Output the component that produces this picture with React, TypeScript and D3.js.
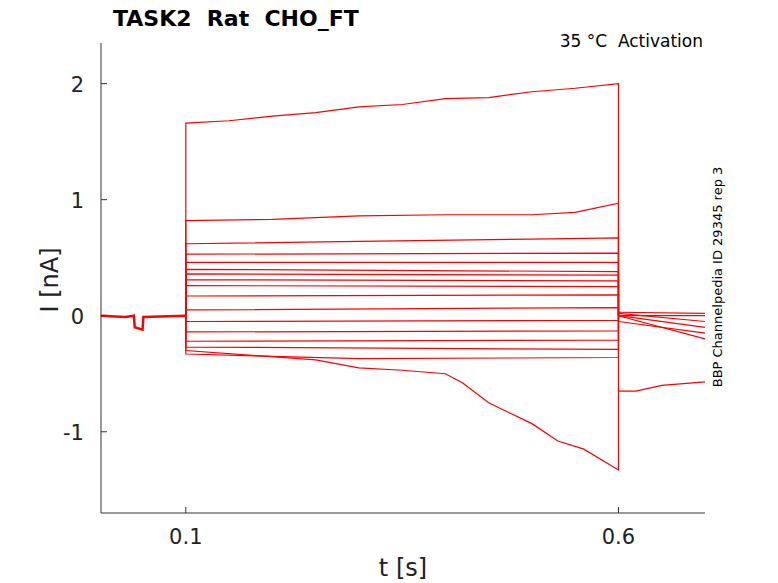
import React from "react";
import * as d3 from "d3";

const xTicks = [0.1, 0.6];
const yTicks = [2, 1, 0, -1];
// each trace: [t, I] key points
const preBaseline: [number, number][] = [[0.002, 0], [0.03, -0.01], [0.04, 0], [0.041, -0.1], [0.05, -0.12], [0.051, -0.01], [0.1, 0]];
const pulseTraces: [number, number][][] = [
  [[0.1, 1.66], [0.15, 1.68], [0.2, 1.72], [0.25, 1.75], [0.3, 1.8], [0.35, 1.82], [0.4, 1.87], [0.45, 1.88], [0.5, 1.93], [0.55, 1.96], [0.6, 2.0]],
  [[0.1, 0.82], [0.2, 0.83], [0.3, 0.86], [0.4, 0.87], [0.5, 0.87], [0.55, 0.89], [0.6, 0.97]],
  [[0.1, 0.62], [0.3, 0.64], [0.5, 0.66], [0.6, 0.67]],
  [[0.1, 0.53], [0.6, 0.54]],
  [[0.1, 0.46], [0.6, 0.46]],
  [[0.1, 0.4], [0.6, 0.38]],
  [[0.1, 0.36], [0.6, 0.35]],
  [[0.1, 0.31], [0.6, 0.3]],
  [[0.1, 0.26], [0.6, 0.25]],
  [[0.1, 0.17], [0.6, 0.18]],
  [[0.1, 0.05], [0.6, 0.07]],
  [[0.1, -0.05], [0.6, -0.04]],
  [[0.1, -0.14], [0.6, -0.13]],
  [[0.1, -0.22], [0.6, -0.21]],
  [[0.1, -0.27], [0.6, -0.29]],
  [[0.1, -0.33], [0.3, -0.37], [0.6, -0.36]],
  [[0.1, -0.3], [0.25, -0.38], [0.3, -0.45], [0.35, -0.47], [0.4, -0.5], [0.42, -0.58], [0.45, -0.75], [0.5, -0.93], [0.53, -1.08], [0.56, -1.15], [0.6, -1.33]],
];
const postTraces: [number, number][][] = [
  [[0.6, -0.65], [0.62, -0.65], [0.65, -0.6], [0.7, -0.57]],
  [[0.6, 0], [0.7, -0.2]],
  [[0.6, -0.05], [0.7, -0.15]],
  [[0.6, 0], [0.7, -0.1]],
  [[0.6, 0.02], [0.7, -0.05]],
  [[0.6, 0.03], [0.7, 0.02]],
  [[0.6, 0], [0.7, 0.0]],
];

export default function App() {
  const x = d3.scaleLinear().domain([0.002, 0.7]).range([101, 705]);
  const y = d3.scaleLinear().domain([2.35, -1.7]).range([43, 513]);
  const line = d3.line<[number, number]>().x(d => x(d[0])).y(d => y(d[1]));
  const font = "DejaVu Sans, sans-serif";
  const pulse = pulseTraces.map(tr => [[0.1, 0] as [number, number], ...tr, [0.6, 0] as [number, number]]);
  return (
    <svg width={778} height={583} style={{ position: "absolute", left: 0, top: 0 }} fontFamily={font}>
      <rect width={778} height={583} fill="white" />
      <g fill="none" stroke="red" strokeWidth={1.2}>
        <path d={line(preBaseline)!} strokeWidth={2.5} />
        {pulse.map((tr, i) => <path key={i} d={line(tr)!} />)}
        {postTraces.map((tr, i) => <path key={"p" + i} d={line(tr)!} />)}
      </g>
      <g stroke="#333" strokeWidth={1}>
        <line x1={101} x2={101} y1={43} y2={513} />
        <line x1={101} x2={705} y1={513} y2={513} />
        {xTicks.map(t => <line key={t} x1={x(t)} x2={x(t)} y1={513} y2={507} />)}
        {yTicks.map(t => <line key={t} x1={101} x2={107} y1={y(t)} y2={y(t)} />)}
      </g>
      {xTicks.map(t => <text key={t} x={x(t)} y={544} fontSize={21} textAnchor="middle" fill="#222">{t}</text>)}
      {yTicks.map(t => <text key={t} x={84} y={y(t) + 8} fontSize={21} textAnchor="end" fill="#222">{t}</text>)}
      <text x={403} y={576} fontSize={24} textAnchor="middle" fill="#222">t [s]</text>
      <text transform="translate(58,280) rotate(-90)" fontSize={24} textAnchor="middle" fill="#222">I [nA]</text>
      <text x={113} y={26} fontSize={22} fontWeight="bold" style={{ whiteSpace: "pre" }}>TASK2  Rat  CHO_FT</text>
      <text x={703} y={47} fontSize={17} textAnchor="end" style={{ whiteSpace: "pre" }}>35 °C  Activation</text>
      <text transform="translate(722,277) rotate(-90)" fontSize={13} textAnchor="middle">BBP Channelpedia ID 29345 rep 3</text>
    </svg>
  );
}
